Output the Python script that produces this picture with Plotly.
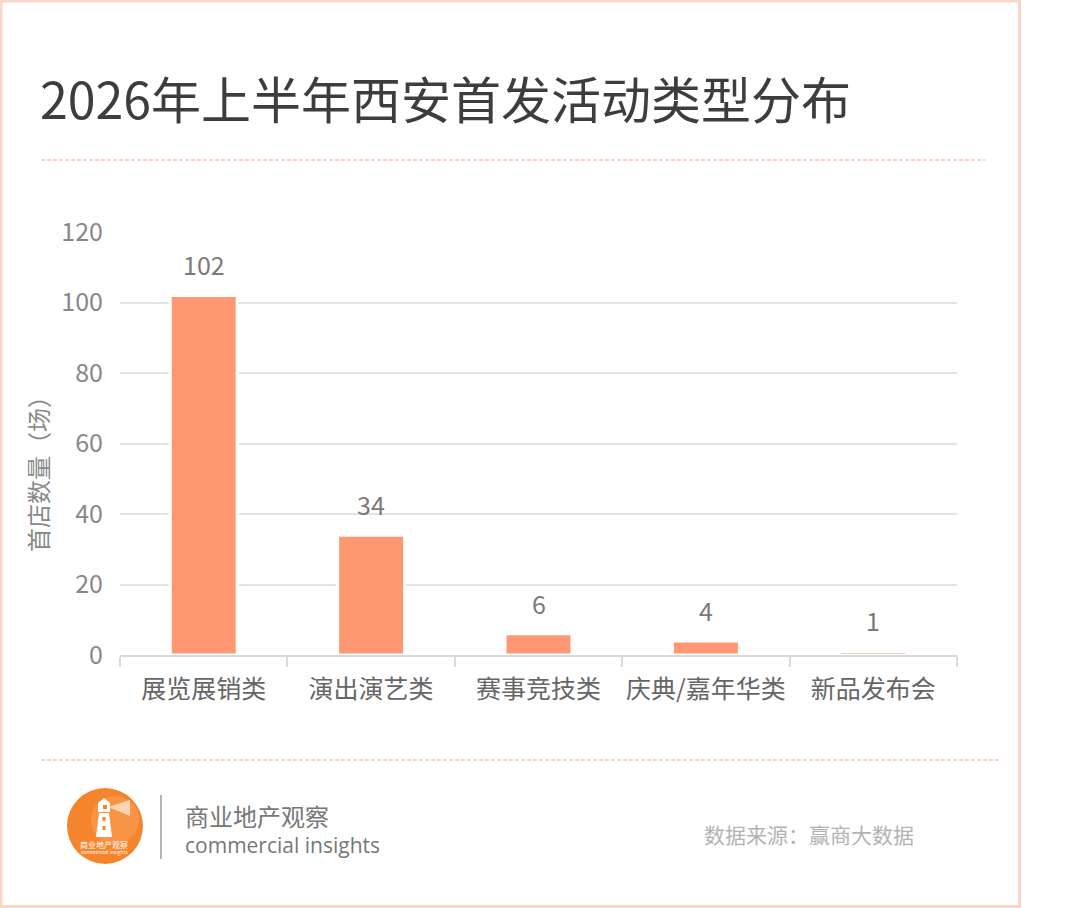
import plotly.graph_objects as go

categories = ["展览展销类", "演出演艺类", "赛事竞技类", "庆典/嘉年华类", "新品发布会"]
values = [102, 34, 6, 4, 1]
y_ticks = [0, 20, 40, 60, 80, 100, 120]

W, H = 1080, 908
L, R, T, B = 120, 123, 232, 253
FONT = "Noto Sans CJK SC, Noto Sans, sans-serif"

def px(x):
    return (x - L) / (W - L - R)

def py(y):
    return (H - B - y) / (H - T - B)

fig = go.Figure()
fig.add_trace(go.Bar(
    x=categories, y=values,
    marker=dict(color="#FF9872", line=dict(color="white", width=3)),
    width=0.40,
    cliponaxis=False,
))

shapes = []
shapes.append(dict(type="rect", xref="paper", yref="paper",
                   x0=px(1), x1=px(1019.5), y0=py(1), y1=py(906.5),
                   line=dict(color="#F9D6C8", width=3), fillcolor="rgba(0,0,0,0)", layer="below"))
shapes.append(dict(type="line", xref="paper", yref="paper", x0=px(41), x1=px(985), y0=py(160), y1=py(160),
                   line=dict(color="#FBD3BE", width=2, dash="4px,2px")))
shapes.append(dict(type="line", xref="paper", yref="paper", x0=px(41), x1=px(1000), y0=py(760), y1=py(760),
                   line=dict(color="#FBD3BE", width=2, dash="4px,2px")))
cx, cy, r = 105, 826, 38
shapes.append(dict(type="circle", xref="paper", yref="paper", x0=px(cx - r), x1=px(cx + r), y0=py(cy - r), y1=py(cy + r),
                   fillcolor="#F5852C", line=dict(width=0)))
shapes.append(dict(type="circle", xref="paper", yref="paper", x0=px(cx - 14), x1=px(cx + 34), y0=py(cy - 30), y1=py(cy + 18),
                   fillcolor="rgba(255,185,130,0.30)", line=dict(width=0)))
shapes.append(dict(type="path", xref="paper", yref="paper",
                   path=f"M {px(108)},{py(807)} L {px(130)},{py(800)} L {px(130)},{py(816)} Z",
                   fillcolor="rgba(255,235,215,0.75)", line=dict(width=0)))
shapes.append(dict(type="path", xref="paper", yref="paper",
                   path=f"M {px(98)},{py(803)} L {px(104)},{py(798)} L {px(110)},{py(803)} Z",
                   fillcolor="white", line=dict(width=0)))
shapes.append(dict(type="rect", xref="paper", yref="paper", x0=px(98), x1=px(110), y0=py(803), y1=py(812),
                   fillcolor="white", line=dict(width=0)))
shapes.append(dict(type="rect", xref="paper", yref="paper", x0=px(103), x1=px(107), y0=py(805), y1=py(809),
                   fillcolor="#F5852C", line=dict(width=0)))
shapes.append(dict(type="path", xref="paper", yref="paper",
                   path=f"M {px(99)},{py(813)} L {px(109)},{py(813)} L {px(112)},{py(837)} L {px(96)},{py(837)} Z",
                   fillcolor="white", line=dict(width=0)))
shapes.append(dict(type="rect", xref="paper", yref="paper", x0=px(102.5), x1=px(105.5), y0=py(817), y1=py(821),
                   fillcolor="#F5852C", line=dict(width=0)))
shapes.append(dict(type="rect", xref="paper", yref="paper", x0=px(102.5), x1=px(105.5), y0=py(826), y1=py(830),
                   fillcolor="#F5852C", line=dict(width=0)))
shapes.append(dict(type="line", xref="paper", yref="paper", x0=px(161), x1=px(161), y0=py(795), y1=py(859),
                   line=dict(color="#b5b5b5", width=2)))

annotations = [
    dict(text="2026年上半年西安首发活动类型分布", xref="paper", yref="paper", x=px(38), y=py(97),
         xanchor="left", yanchor="middle", showarrow=False,
         font=dict(size=50, color="#3d3d3d", family=FONT)),
    dict(text="首店数量（场）", xref="paper", yref="paper", x=px(37), y=py(468),
         xanchor="center", yanchor="middle", showarrow=False, textangle=-90,
         font=dict(size=24, color="#888888", family=FONT)),
    dict(text="商业地产观察", xref="paper", yref="paper", x=px(183), y=py(815),
         xanchor="left", yanchor="middle", showarrow=False,
         font=dict(size=24, color="#777777", family=FONT)),
    dict(text="commercial insights", xref="paper", yref="paper", x=px(183), y=py(845),
         xanchor="left", yanchor="middle", showarrow=False,
         font=dict(size=21, color="#777777", family="Open Sans, Noto Sans, sans-serif")),
    dict(text="数据来源：赢商大数据", xref="paper", yref="paper", x=px(702), y=py(834),
         xanchor="left", yanchor="middle", showarrow=False,
         font=dict(size=21, color="#b3b3b3", family=FONT)),
    dict(text="商业地产观察", xref="paper", yref="paper", x=px(104), y=py(844),
         xanchor="center", yanchor="middle", showarrow=False,
         font=dict(size=8, color="white", family=FONT)),
    dict(text="commercial insights", xref="paper", yref="paper", x=px(104), y=py(852),
         xanchor="center", yanchor="middle", showarrow=False,
         font=dict(size=5, color="white", family=FONT)),
]
for c, v in zip(categories, values):
    annotations.append(dict(text=str(v), x=c, y=v, xref="x", yref="y",
                            xanchor="center", yanchor="bottom", yshift=11, showarrow=False,
                            font=dict(size=25, color="#7a7a7a", family=FONT)))

fig.update_layout(
    width=W, height=H,
    margin=dict(l=L, r=R, t=T, b=B, pad=0),
    paper_bgcolor="white", plot_bgcolor="white",
    showlegend=False,
    shapes=shapes, annotations=annotations,
    font=dict(family=FONT),
)
fig.update_xaxes(
    showgrid=False, showline=True, linecolor="#d9d9d9", linewidth=1.5,
    ticks="outside", tickson="boundaries", ticklen=10, tickcolor="#d9d9d9", tickwidth=1.5,
    tickfont=dict(size=25, color="#666666", family=FONT), ticklabelstandoff=11, tickangle=0,
)
fig.update_yaxes(
    range=[0, 120], tickvals=y_ticks, showgrid=True, gridcolor="#e3e3e3", gridwidth=1.5,
    zeroline=False, showline=False, ticks="", ticklabelstandoff=16,
    tickfont=dict(size=25, color="#888888", family=FONT),
)

fig.write_html("out.html")
